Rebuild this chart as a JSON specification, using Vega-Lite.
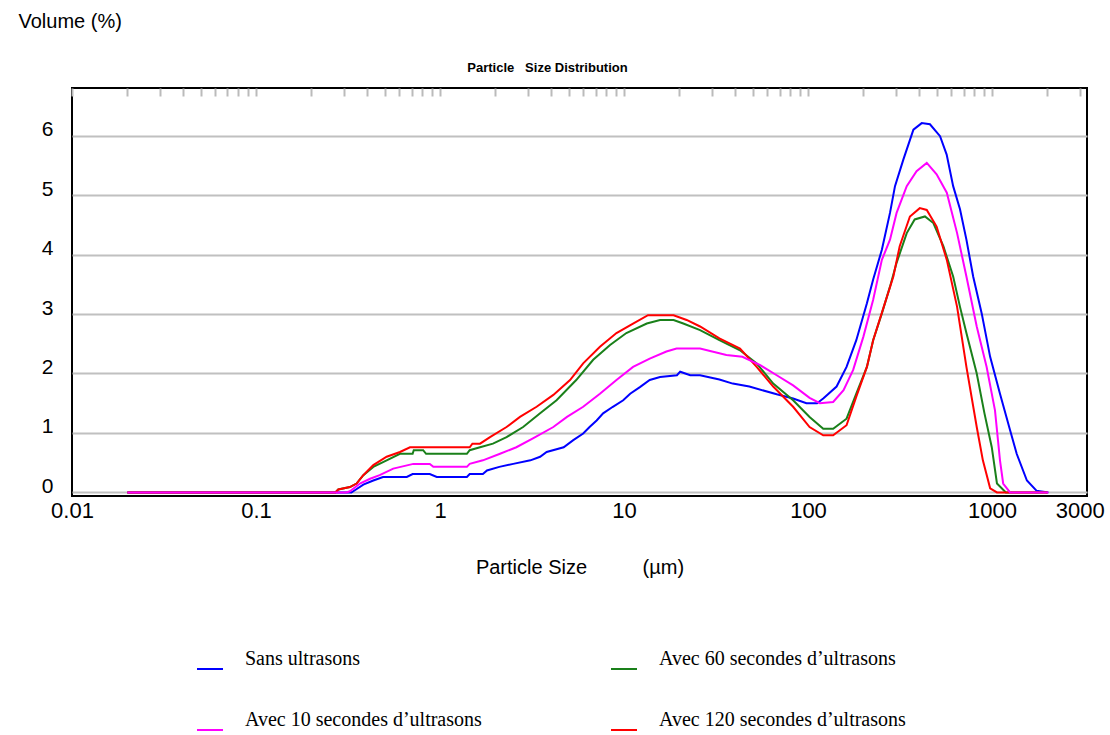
{
  "$schema": "https://vega.github.io/schema/vega-lite/v6.json",
  "width": 1015,
  "height": 408,
  "autosize": {"type": "none"},
  "padding": {"left": 72, "top": 88, "right": 23, "bottom": 239},
  "background": "white",
  "config": {"view": {"stroke": "black", "strokeWidth": 2}, "font": "Liberation Sans"},
  "data": {"values": [
    {"s":"Sans ultrasons","x":0.02,"y":0},{"s":"Sans ultrasons","x":0.33,"y":0},{"s":"Sans ultrasons","x":0.338,"y":0.02},{"s":"Sans ultrasons","x":0.383,"y":0.13},{"s":"Sans ultrasons","x":0.434,"y":0.2},{"s":"Sans ultrasons","x":0.49,"y":0.26},{"s":"Sans ultrasons","x":0.66,"y":0.26},{"s":"Sans ultrasons","x":0.71,"y":0.31},{"s":"Sans ultrasons","x":0.88,"y":0.31},{"s":"Sans ultrasons","x":0.96,"y":0.26},{"s":"Sans ultrasons","x":1.4,"y":0.26},{"s":"Sans ultrasons","x":1.45,"y":0.31},{"s":"Sans ultrasons","x":1.71,"y":0.31},{"s":"Sans ultrasons","x":1.8,"y":0.37},{"s":"Sans ultrasons","x":2.1,"y":0.43},{"s":"Sans ultrasons","x":2.5,"y":0.48},{"s":"Sans ultrasons","x":3.1,"y":0.54},{"s":"Sans ultrasons","x":3.5,"y":0.6},{"s":"Sans ultrasons","x":3.8,"y":0.68},{"s":"Sans ultrasons","x":4.7,"y":0.76},{"s":"Sans ultrasons","x":5.3,"y":0.88},{"s":"Sans ultrasons","x":6.0,"y":0.99},{"s":"Sans ultrasons","x":6.5,"y":1.1},{"s":"Sans ultrasons","x":7.1,"y":1.21},{"s":"Sans ultrasons","x":7.7,"y":1.33},{"s":"Sans ultrasons","x":8.7,"y":1.44},{"s":"Sans ultrasons","x":9.9,"y":1.55},{"s":"Sans ultrasons","x":10.8,"y":1.66},{"s":"Sans ultrasons","x":12.2,"y":1.77},{"s":"Sans ultrasons","x":13.8,"y":1.89},{"s":"Sans ultrasons","x":15.7,"y":1.94},{"s":"Sans ultrasons","x":19.4,"y":1.97},{"s":"Sans ultrasons","x":20.2,"y":2.03},{"s":"Sans ultrasons","x":22.9,"y":1.97},{"s":"Sans ultrasons","x":25.9,"y":1.97},{"s":"Sans ultrasons","x":33,"y":1.9},{"s":"Sans ultrasons","x":39,"y":1.83},{"s":"Sans ultrasons","x":48,"y":1.78},{"s":"Sans ultrasons","x":67.6,"y":1.65},{"s":"Sans ultrasons","x":83,"y":1.58},{"s":"Sans ultrasons","x":98,"y":1.5},{"s":"Sans ultrasons","x":112,"y":1.5},{"s":"Sans ultrasons","x":121,"y":1.58},{"s":"Sans ultrasons","x":143,"y":1.78},{"s":"Sans ultrasons","x":162,"y":2.11},{"s":"Sans ultrasons","x":183,"y":2.56},{"s":"Sans ultrasons","x":209,"y":3.18},{"s":"Sans ultrasons","x":226,"y":3.58},{"s":"Sans ultrasons","x":252,"y":4.08},{"s":"Sans ultrasons","x":279,"y":4.7},{"s":"Sans ultrasons","x":297,"y":5.15},{"s":"Sans ultrasons","x":330,"y":5.6},{"s":"Sans ultrasons","x":374,"y":6.1},{"s":"Sans ultrasons","x":415,"y":6.21},{"s":"Sans ultrasons","x":460,"y":6.19},{"s":"Sans ultrasons","x":522,"y":5.99},{"s":"Sans ultrasons","x":567,"y":5.68},{"s":"Sans ultrasons","x":615,"y":5.15},{"s":"Sans ultrasons","x":670,"y":4.76},{"s":"Sans ultrasons","x":726,"y":4.25},{"s":"Sans ultrasons","x":790,"y":3.63},{"s":"Sans ultrasons","x":879,"y":3.01},{"s":"Sans ultrasons","x":977,"y":2.28},{"s":"Sans ultrasons","x":1105,"y":1.66},{"s":"Sans ultrasons","x":1253,"y":1.05},{"s":"Sans ultrasons","x":1362,"y":0.65},{"s":"Sans ultrasons","x":1548,"y":0.2},{"s":"Sans ultrasons","x":1744,"y":0.03},{"s":"Sans ultrasons","x":2024,"y":0},
    {"s":"Avec 60 secondes d’ultrasons","x":0.02,"y":0},{"s":"Avec 60 secondes d’ultrasons","x":0.27,"y":0},{"s":"Avec 60 secondes d’ultrasons","x":0.28,"y":0.05},{"s":"Avec 60 secondes d’ultrasons","x":0.324,"y":0.09},{"s":"Avec 60 secondes d’ultrasons","x":0.352,"y":0.15},{"s":"Avec 60 secondes d’ultrasons","x":0.383,"y":0.29},{"s":"Avec 60 secondes d’ultrasons","x":0.434,"y":0.43},{"s":"Avec 60 secondes d’ultrasons","x":0.513,"y":0.54},{"s":"Avec 60 secondes d’ultrasons","x":0.606,"y":0.65},{"s":"Avec 60 secondes d’ultrasons","x":0.71,"y":0.65},{"s":"Avec 60 secondes d’ultrasons","x":0.72,"y":0.71},{"s":"Avec 60 secondes d’ultrasons","x":0.81,"y":0.71},{"s":"Avec 60 secondes d’ultrasons","x":0.84,"y":0.65},{"s":"Avec 60 secondes d’ultrasons","x":1.4,"y":0.65},{"s":"Avec 60 secondes d’ultrasons","x":1.45,"y":0.71},{"s":"Avec 60 secondes d’ultrasons","x":1.65,"y":0.76},{"s":"Avec 60 secondes d’ultrasons","x":1.94,"y":0.82},{"s":"Avec 60 secondes d’ultrasons","x":2.3,"y":0.93},{"s":"Avec 60 secondes d’ultrasons","x":2.83,"y":1.1},{"s":"Avec 60 secondes d’ultrasons","x":3.5,"y":1.33},{"s":"Avec 60 secondes d’ultrasons","x":4.3,"y":1.55},{"s":"Avec 60 secondes d’ultrasons","x":5.5,"y":1.89},{"s":"Avec 60 secondes d’ultrasons","x":6.8,"y":2.23},{"s":"Avec 60 secondes d’ultrasons","x":8.4,"y":2.48},{"s":"Avec 60 secondes d’ultrasons","x":10.3,"y":2.68},{"s":"Avec 60 secondes d’ultrasons","x":13.3,"y":2.84},{"s":"Avec 60 secondes d’ultrasons","x":15.7,"y":2.9},{"s":"Avec 60 secondes d’ultrasons","x":18.6,"y":2.9},{"s":"Avec 60 secondes d’ultrasons","x":21,"y":2.84},{"s":"Avec 60 secondes d’ultrasons","x":25.9,"y":2.73},{"s":"Avec 60 secondes d’ultrasons","x":33,"y":2.56},{"s":"Avec 60 secondes d’ultrasons","x":42.7,"y":2.39},{"s":"Avec 60 secondes d’ultrasons","x":52.6,"y":2.17},{"s":"Avec 60 secondes d’ultrasons","x":64.7,"y":1.83},{"s":"Avec 60 secondes d’ultrasons","x":83,"y":1.55},{"s":"Avec 60 secondes d’ultrasons","x":102,"y":1.27},{"s":"Avec 60 secondes d’ultrasons","x":121,"y":1.07},{"s":"Avec 60 secondes d’ultrasons","x":137,"y":1.07},{"s":"Avec 60 secondes d’ultrasons","x":162,"y":1.24},{"s":"Avec 60 secondes d’ultrasons","x":183,"y":1.66},{"s":"Avec 60 secondes d’ultrasons","x":209,"y":2.11},{"s":"Avec 60 secondes d’ultrasons","x":226,"y":2.56},{"s":"Avec 60 secondes d’ultrasons","x":252,"y":3.01},{"s":"Avec 60 secondes d’ultrasons","x":279,"y":3.46},{"s":"Avec 60 secondes d’ultrasons","x":303,"y":3.86},{"s":"Avec 60 secondes d’ultrasons","x":344,"y":4.36},{"s":"Avec 60 secondes d’ultrasons","x":380,"y":4.59},{"s":"Avec 60 secondes d’ultrasons","x":432,"y":4.64},{"s":"Avec 60 secondes d’ultrasons","x":480,"y":4.53},{"s":"Avec 60 secondes d’ultrasons","x":544,"y":4.14},{"s":"Avec 60 secondes d’ultrasons","x":615,"y":3.63},{"s":"Avec 60 secondes d’ultrasons","x":670,"y":3.12},{"s":"Avec 60 secondes d’ultrasons","x":726,"y":2.68},{"s":"Avec 60 secondes d’ultrasons","x":826,"y":2.0},{"s":"Avec 60 secondes d’ultrasons","x":910,"y":1.33},{"s":"Avec 60 secondes d’ultrasons","x":997,"y":0.76},{"s":"Avec 60 secondes d’ultrasons","x":1064,"y":0.15},{"s":"Avec 60 secondes d’ultrasons","x":1190,"y":0},{"s":"Avec 60 secondes d’ultrasons","x":2000,"y":0},
    {"s":"Avec 120 secondes d’ultrasons","x":0.02,"y":0},{"s":"Avec 120 secondes d’ultrasons","x":0.27,"y":0},{"s":"Avec 120 secondes d’ultrasons","x":0.28,"y":0.05},{"s":"Avec 120 secondes d’ultrasons","x":0.324,"y":0.09},{"s":"Avec 120 secondes d’ultrasons","x":0.352,"y":0.15},{"s":"Avec 120 secondes d’ultrasons","x":0.383,"y":0.29},{"s":"Avec 120 secondes d’ultrasons","x":0.434,"y":0.46},{"s":"Avec 120 secondes d’ultrasons","x":0.513,"y":0.6},{"s":"Avec 120 secondes d’ultrasons","x":0.606,"y":0.68},{"s":"Avec 120 secondes d’ultrasons","x":0.687,"y":0.76},{"s":"Avec 120 secondes d’ultrasons","x":1.45,"y":0.76},{"s":"Avec 120 secondes d’ultrasons","x":1.5,"y":0.82},{"s":"Avec 120 secondes d’ultrasons","x":1.65,"y":0.82},{"s":"Avec 120 secondes d’ultrasons","x":1.87,"y":0.93},{"s":"Avec 120 secondes d’ultrasons","x":2.3,"y":1.1},{"s":"Avec 120 secondes d’ultrasons","x":2.72,"y":1.27},{"s":"Avec 120 secondes d’ultrasons","x":3.35,"y":1.44},{"s":"Avec 120 secondes d’ultrasons","x":4.13,"y":1.64},{"s":"Avec 120 secondes d’ultrasons","x":5.09,"y":1.89},{"s":"Avec 120 secondes d’ultrasons","x":6.0,"y":2.17},{"s":"Avec 120 secondes d’ultrasons","x":7.4,"y":2.45},{"s":"Avec 120 secondes d’ultrasons","x":9.1,"y":2.68},{"s":"Avec 120 secondes d’ultrasons","x":11.2,"y":2.84},{"s":"Avec 120 secondes d’ultrasons","x":13.5,"y":2.98},{"s":"Avec 120 secondes d’ultrasons","x":18.6,"y":2.98},{"s":"Avec 120 secondes d’ultrasons","x":21.9,"y":2.9},{"s":"Avec 120 secondes d’ultrasons","x":25.9,"y":2.79},{"s":"Avec 120 secondes d’ultrasons","x":33,"y":2.59},{"s":"Avec 120 secondes d’ultrasons","x":42.7,"y":2.42},{"s":"Avec 120 secondes d’ultrasons","x":52.6,"y":2.11},{"s":"Avec 120 secondes d’ultrasons","x":64.7,"y":1.78},{"s":"Avec 120 secondes d’ultrasons","x":83,"y":1.44},{"s":"Avec 120 secondes d’ultrasons","x":102,"y":1.1},{"s":"Avec 120 secondes d’ultrasons","x":121,"y":0.96},{"s":"Avec 120 secondes d’ultrasons","x":137,"y":0.96},{"s":"Avec 120 secondes d’ultrasons","x":162,"y":1.13},{"s":"Avec 120 secondes d’ultrasons","x":183,"y":1.61},{"s":"Avec 120 secondes d’ultrasons","x":209,"y":2.11},{"s":"Avec 120 secondes d’ultrasons","x":226,"y":2.56},{"s":"Avec 120 secondes d’ultrasons","x":258,"y":3.12},{"s":"Avec 120 secondes d’ultrasons","x":291,"y":3.63},{"s":"Avec 120 secondes d’ultrasons","x":315,"y":4.14},{"s":"Avec 120 secondes d’ultrasons","x":358,"y":4.64},{"s":"Avec 120 secondes d’ultrasons","x":405,"y":4.78},{"s":"Avec 120 secondes d’ultrasons","x":442,"y":4.75},{"s":"Avec 120 secondes d’ultrasons","x":500,"y":4.47},{"s":"Avec 120 secondes d’ultrasons","x":568,"y":3.91},{"s":"Avec 120 secondes d’ultrasons","x":646,"y":3.12},{"s":"Avec 120 secondes d’ultrasons","x":726,"y":2.11},{"s":"Avec 120 secondes d’ultrasons","x":826,"y":1.1},{"s":"Avec 120 secondes d’ultrasons","x":892,"y":0.54},{"s":"Avec 120 secondes d’ultrasons","x":977,"y":0.07},{"s":"Avec 120 secondes d’ultrasons","x":1064,"y":0},{"s":"Avec 120 secondes d’ultrasons","x":2000,"y":0},
    {"s":"Avec 10 secondes d’ultrasons","x":0.02,"y":0},{"s":"Avec 10 secondes d’ultrasons","x":0.31,"y":0},{"s":"Avec 10 secondes d’ultrasons","x":0.324,"y":0.02},{"s":"Avec 10 secondes d’ultrasons","x":0.367,"y":0.15},{"s":"Avec 10 secondes d’ultrasons","x":0.417,"y":0.23},{"s":"Avec 10 secondes d’ultrasons","x":0.47,"y":0.29},{"s":"Avec 10 secondes d’ultrasons","x":0.557,"y":0.4},{"s":"Avec 10 secondes d’ultrasons","x":0.716,"y":0.48},{"s":"Avec 10 secondes d’ultrasons","x":0.88,"y":0.48},{"s":"Avec 10 secondes d’ultrasons","x":0.92,"y":0.43},{"s":"Avec 10 secondes d’ultrasons","x":1.4,"y":0.43},{"s":"Avec 10 secondes d’ultrasons","x":1.45,"y":0.48},{"s":"Avec 10 secondes d’ultrasons","x":1.71,"y":0.54},{"s":"Avec 10 secondes d’ultrasons","x":2.12,"y":0.65},{"s":"Avec 10 secondes d’ultrasons","x":2.6,"y":0.76},{"s":"Avec 10 secondes d’ultrasons","x":3.2,"y":0.91},{"s":"Avec 10 secondes d’ultrasons","x":4.13,"y":1.1},{"s":"Avec 10 secondes d’ultrasons","x":4.9,"y":1.27},{"s":"Avec 10 secondes d’ultrasons","x":6.0,"y":1.44},{"s":"Avec 10 secondes d’ultrasons","x":7.4,"y":1.66},{"s":"Avec 10 secondes d’ultrasons","x":9.1,"y":1.89},{"s":"Avec 10 secondes d’ultrasons","x":11.2,"y":2.11},{"s":"Avec 10 secondes d’ultrasons","x":13.8,"y":2.25},{"s":"Avec 10 secondes d’ultrasons","x":17,"y":2.37},{"s":"Avec 10 secondes d’ultrasons","x":19.3,"y":2.42},{"s":"Avec 10 secondes d’ultrasons","x":25.9,"y":2.42},{"s":"Avec 10 secondes d’ultrasons","x":36,"y":2.31},{"s":"Avec 10 secondes d’ultrasons","x":44,"y":2.28},{"s":"Avec 10 secondes d’ultrasons","x":55,"y":2.14},{"s":"Avec 10 secondes d’ultrasons","x":67.6,"y":1.97},{"s":"Avec 10 secondes d’ultrasons","x":83,"y":1.8},{"s":"Avec 10 secondes d’ultrasons","x":102,"y":1.59},{"s":"Avec 10 secondes d’ultrasons","x":116,"y":1.5},{"s":"Avec 10 secondes d’ultrasons","x":137,"y":1.52},{"s":"Avec 10 secondes d’ultrasons","x":156,"y":1.72},{"s":"Avec 10 secondes d’ultrasons","x":176,"y":2.06},{"s":"Avec 10 secondes d’ultrasons","x":200,"y":2.62},{"s":"Avec 10 secondes d’ultrasons","x":226,"y":3.24},{"s":"Avec 10 secondes d’ultrasons","x":252,"y":3.91},{"s":"Avec 10 secondes d’ultrasons","x":279,"y":4.25},{"s":"Avec 10 secondes d’ultrasons","x":303,"y":4.7},{"s":"Avec 10 secondes d’ultrasons","x":344,"y":5.15},{"s":"Avec 10 secondes d’ultrasons","x":389,"y":5.4},{"s":"Avec 10 secondes d’ultrasons","x":442,"y":5.54},{"s":"Avec 10 secondes d’ultrasons","x":500,"y":5.35},{"s":"Avec 10 secondes d’ultrasons","x":568,"y":5.04},{"s":"Avec 10 secondes d’ultrasons","x":646,"y":4.36},{"s":"Avec 10 secondes d’ultrasons","x":726,"y":3.63},{"s":"Avec 10 secondes d’ultrasons","x":826,"y":2.79},{"s":"Avec 10 secondes d’ultrasons","x":935,"y":2.11},{"s":"Avec 10 secondes d’ultrasons","x":1038,"y":1.38},{"s":"Avec 10 secondes d’ultrasons","x":1105,"y":0.54},{"s":"Avec 10 secondes d’ultrasons","x":1150,"y":0.15},{"s":"Avec 10 secondes d’ultrasons","x":1253,"y":0},{"s":"Avec 10 secondes d’ultrasons","x":2024,"y":0}
  ]},
  "layer": [
    {
      "mark": {"type": "line", "strokeWidth": 2, "clip": true},
      "encoding": {
        "x": {"field": "x", "type": "quantitative",
          "scale": {"type": "log", "domain": [0.01, 3283], "nice": false},
          "axis": {"orient": "bottom", "values": [0.01, 0.1, 1, 10, 100, 1000, 3000],
            "labelExpr": "datum.value < 1 ? format(datum.value, '.2~f') : format(datum.value, 'd')",
            "grid": false, "ticks": false, "domain": false,
            "labelFont": "Liberation Sans", "labelFontSize": 22, "labelColor": "black", "labelPadding": 4,
            "labelFlush": false, "labelOverlap": false,
            "title": "Particle Size\u00a0\u00a0\u00a0\u00a0\u00a0\u00a0\u00a0\u00a0\u00a0\u00a0(µm)",
            "titleFont": "Liberation Sans", "titleFontSize": 20, "titleFontWeight": "normal", "titleColor": "black",
            "titleBaseline": "alphabetic", "titleY": 77}},
        "y": {"field": "y", "type": "quantitative",
          "scale": {"domain": [-0.06, 6.8], "nice": false, "zero": false},
          "axis": {"values": [0, 1, 2, 3, 4, 5, 6], "grid": true, "gridColor": "#c0c0c0", "gridWidth": 2,
            "ticks": false, "domain": false,
            "labelFont": "Liberation Sans", "labelFontSize": 21, "labelColor": "black", "labelPadding": 19, "labelOffset": -6,
            "title": "Volume (%)", "titleAngle": 0, "titleAlign": "left", "titleBaseline": "alphabetic",
            "titleX": -54, "titleY": -61, "titleFont": "Liberation Sans", "titleFontSize": 20, "titleFontWeight": "normal", "titleColor": "black"}},
        "color": {"field": "s", "type": "nominal",
          "scale": {"domain": ["Sans ultrasons", "Avec 10 secondes d’ultrasons", "Avec 60 secondes d’ultrasons", "Avec 120 secondes d’ultrasons"],
            "range": ["#0000ff", "#ff00ff", "#1a801a", "#ff0000"]},
          "legend": {"orient": "none", "legendX": 124, "legendY": 567, "columns": 2, "title": null,
            "symbolType": "stroke", "symbolSize": 676, "symbolStrokeWidth": 2,
            "labelFont": "Liberation Serif", "labelFontSize": 20, "labelColor": "black", "labelBaseline": "bottom",
            "labelOffset": 21, "labelLimit": 500, "rowPadding": 37, "columnPadding": 125}}
      }
    },
    {
      "mark": {"type": "point", "opacity": 0},
      "encoding": {
        "x": {"field": "x", "type": "quantitative",
          "axis": {"orient": "top", "values": [0.01,0.02,0.03,0.04,0.05,0.06,0.07,0.08,0.09,0.1,0.2,0.3,0.4,0.5,0.6,0.7,0.8,0.9,1,2,3,4,5,6,7,8,9,10,20,30,40,50,60,70,80,90,100,200,300,400,500,600,700,800,900,1000,2000,3000],
            "labels": false, "ticks": true, "tickSize": -8, "tickColor": "#bbbbbb", "tickWidth": 2,
            "domain": false, "grid": false,
            "title": "Particle\u00a0\u00a0 Size Distribution", "titleFont": "Liberation Sans", "titleFontSize": 13, "titleFontWeight": "bold", "titleColor": "black",
            "titleAlign": "center", "titleBaseline": "alphabetic", "titleX": 475, "titleY": -17}}
      }
    }
  ],
  "resolve": {"axis": {"x": "independent"}}
}
